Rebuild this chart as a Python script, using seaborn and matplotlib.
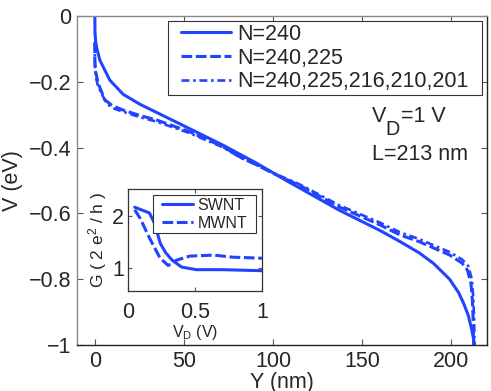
import numpy as np
import pandas as pd
import matplotlib
matplotlib.use("Agg")
import matplotlib.pyplot as plt
from matplotlib.patches import Rectangle
import seaborn as sns

# ---- data ----
y_solid = [0, 0.1, 0.5, 1.2, 2.8, 8.4, 15.9, 25.2, 34.6, 53, 72, 90.6, 109, 115, 137, 160, 171, 182, 190, 199, 204, 207, 209.5, 211.3, 212.4, 213]
v_solid = [0, -0.05, -0.08, -0.1, -0.134, -0.195, -0.238, -0.268, -0.293, -0.342, -0.393, -0.447, -0.505, -0.523, -0.59, -0.652, -0.685, -0.72, -0.752, -0.80, -0.84, -0.875, -0.91, -0.95, -0.98, -1.0]

y_dash = [0, 0, 0.5, 1.9, 5.6, 10, 15.9, 25, 34.6, 53.2, 71.9, 81.2, 90.6, 100, 115, 137, 160, 171, 182, 190, 198.9, 206, 209, 211, 211.8, 212.2, 212.5]
v_dash = [-0.08, -0.134, -0.17, -0.205, -0.255, -0.273, -0.286, -0.302, -0.316, -0.352, -0.397, -0.428, -0.452, -0.478, -0.515, -0.58, -0.635, -0.665, -0.686, -0.705, -0.726, -0.751, -0.772, -0.813, -0.863, -0.92, -1.0]

y_dd = [0, 0, 0.5, 1.9, 6.5, 10, 15.9, 25, 34.6, 53.2, 71.9, 81.2, 90.6, 100, 115, 137, 160, 171, 182, 190, 198.9, 206, 209.5, 211.5, 212.3, 212.8, 213]
v_dd = [-0.08, -0.15, -0.185, -0.215, -0.265, -0.28, -0.291, -0.307, -0.321, -0.356, -0.399, -0.429, -0.452, -0.477, -0.512, -0.575, -0.628, -0.657, -0.678, -0.697, -0.717, -0.74, -0.76, -0.80, -0.855, -0.92, -1.0]

labels_main = ["N=240", "N=240,225", "N=240,225,216,210,201"]

vd_sw = [0.05, 0.16, 0.2, 0.24, 0.28, 0.33, 0.40, 0.51, 0.7, 1.0]
g_sw = [2.17, 2.06, 1.85, 1.48, 1.30, 1.15, 1.02, 0.97, 0.97, 0.95]
vd_mw = [0.05, 0.09, 0.16, 0.24, 0.30, 0.36, 0.46, 0.64, 0.78, 1.0]
g_mw = [2.12, 1.96, 1.58, 1.19, 1.05, 1.15, 1.23, 1.25, 1.21, 1.19]
labels_inset = ["SWNT", "MWNT"]

main_xticks = [0, 50, 100, 150, 200]
main_yticks = [0, -0.2, -0.4, -0.6, -0.8, -1]
main_yticklabels = ['0', '\u22120.2', '\u22120.4', '\u22120.6', '\u22120.8', '\u22121']
inset_xticks = [0, 0.5, 1]
inset_xticklabels = ['0', '0.5', '1']
inset_yticks = [1, 2]

# ---- style ----
sns.set_style("ticks")
plt.rcParams['font.family'] = ['Liberation Sans', 'DejaVu Sans']
plt.rcParams['mathtext.fontset'] = 'custom'
plt.rcParams['mathtext.rm'] = 'Liberation Sans'
plt.rcParams['mathtext.it'] = 'Liberation Sans'
plt.rcParams['axes.unicode_minus'] = True

BLUE = '#2244ff'
FS = 15.5
W, H = 491, 391

fig = plt.figure(figsize=(W / 100, H / 100), dpi=100)
ax = fig.add_axes([77 / W, 46 / H, 410 / W, 329 / H])

def series_df(x, y, name):
    return pd.DataFrame({'x': x, 'y': y, 'series': name})

DASH = (0, (3.5, 1.2))
DASHDOT = (0, (3.0, 1.4, 1.0, 1.4))
main_styles = [('-', 2.2), (DASH, 2.2), (DASHDOT, 1.9)]
for xx, yy, lab, (ls, lw) in zip([y_solid, y_dash, y_dd], [v_solid, v_dash, v_dd], labels_main, main_styles):
    sns.lineplot(data=series_df(xx, yy, lab), x='x', y='y', ax=ax, sort=False, estimator=None,
                 color=BLUE, linestyle=ls, linewidth=lw, label=lab)

ax.set_xlim(-10, 220)
ax.set_ylim(-1, 0)
ax.set_xticks(main_xticks)
ax.set_yticks(main_yticks)
ax.set_yticklabels(main_yticklabels)
ax.tick_params(direction='in', length=4, width=0.8, labelsize=FS, top=True, right=True,
               color='#555555', pad=4)
ax.set_xlabel('Y (nm)', fontsize=FS, labelpad=0)
ax.set_ylabel('V (eV)', fontsize=FS, labelpad=4)
for s in ['top', 'left']:
    ax.spines[s].set_color('#888888')
for s in ['bottom', 'right']:
    ax.spines[s].set_color('#222222')
for s in ax.spines.values():
    s.set_linewidth(1.0)

leg = ax.legend(loc='upper right', bbox_to_anchor=(469 / W, 1 - 24 / H), bbox_transform=fig.transFigure,
                borderaxespad=0, borderpad=0, fontsize=FS, handlelength=2.3, handletextpad=0.33,
                labelspacing=0.12, frameon=False)

# V_D = 1 V  with a large, low subscript
tV = ax.text(155.5, -0.306, 'V', fontsize=FS, ha='left', va='center')
tD = ax.annotate('D', xy=(1, 0), xycoords=tV, xytext=(-0.5, -1.5), textcoords='offset points',
                 fontsize=FS * 0.92, ha='left', va='center')
ax.annotate('=1 V', xy=(1, 0.5), xycoords=(tD, tV), xytext=(0.5, 0), textcoords='offset points',
            fontsize=FS, ha='left', va='center')
ax.text(155.5, -0.422, 'L=213 nm', fontsize=FS, ha='left', va='center')

# ---- inset ----
ins = fig.add_axes([128 / W, 100 / H, 134 / W, 102 / H])
ins.set_facecolor('white')
sns.lineplot(data=series_df(vd_sw, g_sw, labels_inset[0]), x='x', y='y', ax=ins, sort=False,
             estimator=None, color=BLUE, linestyle='-', linewidth=2.2, label=labels_inset[0])
sns.lineplot(data=series_df(vd_mw, g_mw, labels_inset[1]), x='x', y='y', ax=ins, sort=False,
             estimator=None, color=BLUE, linestyle=DASH, linewidth=2.2, label=labels_inset[1])
ins.set_xlim(0, 1)
ins.set_ylim(0.56, 2.52)
ins.set_xticks(inset_xticks)
ins.set_xticklabels(inset_xticklabels)
ins.set_yticks(inset_yticks)
ins.tick_params(axis='both', direction='in', length=3, width=0.8, labelsize=FS, top=True, right=True,
                color='#555555')
ins.tick_params(axis='x', pad=8)
ins.tick_params(axis='y', pad=3)
ins.set_xlabel(r'$\mathregular{V_D}$ (V)', fontsize=11.5, labelpad=0)
ins.set_ylabel(r'G ( 2 e$^{\mathregular{2}}$ / h )', fontsize=12.5, labelpad=2)
for s in ins.spines.values():
    s.set_color('#333333')
    s.set_linewidth(0.9)
leg2 = ins.legend(loc='upper right', bbox_to_anchor=(247 / W, 1 - 197.5 / H), bbox_transform=fig.transFigure,
                  borderaxespad=0, borderpad=0, fontsize=11.5, handlelength=1.9, handletextpad=0.3,
                  labelspacing=0.2, frameon=False)

# frames drawn around the legends with MATLAB-like asymmetric padding
fig.canvas.draw()
def frame(axis, lg, padx_l, padx_r, pady_t, pady_b):
    bb = lg.get_window_extent()
    x0 = bb.x0 - padx_l
    x1 = bb.x1 + padx_r
    y0 = bb.y0 - pady_b
    y1 = bb.y1 + pady_t
    r = Rectangle((x0 / W, y0 / H), (x1 - x0) / W, (y1 - y0) / H, transform=fig.transFigure,
                  facecolor='white', edgecolor='#333333', linewidth=0.8, zorder=4.5, clip_on=False)
    axis.add_patch(r)

frame(ax, leg, 13, 13, 3, 3)
frame(ins, leg2, 9, 9, 2.5, 2.5)

fig.savefig('out.png', dpi=100)
